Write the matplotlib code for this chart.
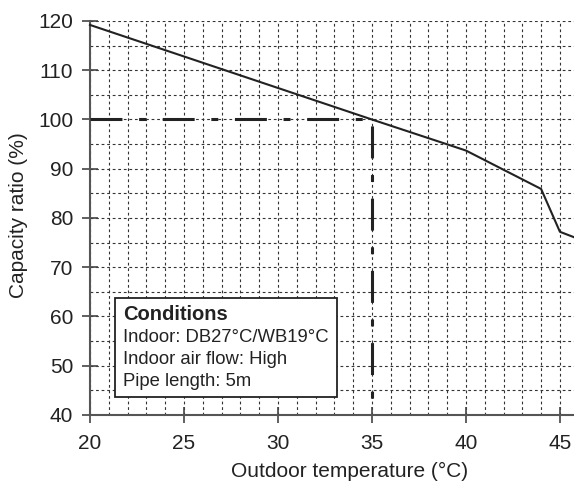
import matplotlib
matplotlib.use("Agg")
import matplotlib.pyplot as plt
from matplotlib.ticker import MultipleLocator

plt.rcParams['font.family'] = ['Liberation Sans', 'DejaVu Sans']
plt.rcParams['lines.scale_dashes'] = False

temps = [20, 35, 40, 44, 45, 45.75]
capacity = [119.2, 100, 93.7, 85.9, 77.2, 76.1]
ref_x = 35
ref_y = 100
x_ticks = [20, 25, 30, 35, 40, 45]
y_ticks = [40, 50, 60, 70, 80, 90, 100, 110, 120]
conditions_title = "Conditions"
conditions_lines = ["Indoor: DB27°C/WB19°C", "Indoor air flow: High", "Pipe length: 5m"]

fig = plt.figure(figsize=(5.74, 4.84), dpi=100)
ax = fig.add_axes([90/574, 69/484, 484/574, 394/484])
ax.set_xlim(20, 45.75)
ax.set_ylim(40, 120)

ax.xaxis.set_minor_locator(MultipleLocator(1))
ax.yaxis.set_minor_locator(MultipleLocator(5))
ax.set_xticks(x_ticks)
ax.set_yticks(y_ticks)
ax.grid(which='both', color='#333333', linestyle=(0, (2, 2)), linewidth=0.8)
ax.tick_params(which='major', direction='inout', length=11, width=1.2, color='#444444',
               labelsize=15, labelcolor='#222222')
ax.tick_params(axis='x', which='major', pad=8)
ax.tick_params(axis='y', which='major', pad=6.5)
ax.tick_params(which='minor', length=0)
for s in ['top', 'right']:
    ax.spines[s].set_visible(False)
for s in ['left', 'bottom']:
    ax.spines[s].set_color('#555555')
    ax.spines[s].set_linewidth(1.5)

ax.plot([20, ref_x], [ref_y, ref_y], color='#222222', linewidth=2.2,
        linestyle=(0, (23, 12, 5, 12)), zorder=3)
ax.plot([ref_x, ref_x], [ref_y, 40], color='#222222', linewidth=2.2,
        linestyle=(47, (23, 12, 5, 12)), zorder=3)
ax.plot(temps, capacity, color='#222222', linewidth=1.5, zorder=4, clip_on=False)

ax.set_xlabel("Outdoor temperature (°C)", fontsize=15, color='#222222')
ax.xaxis.label.set_va('baseline')
ax.xaxis.set_label_coords((350 - 90) / 484, (415 - 477) / 394)
ax.set_ylabel("Capacity ratio (%)", fontsize=15, color='#222222')
ax.yaxis.label.set_va('center')
ax.yaxis.set_label_coords((19 - 90) / 484, (415 - 215) / 394)

# Conditions box
rect = plt.Rectangle((115/574, 1 - 397/484), 222/574, 99/484, transform=fig.transFigure,
                     facecolor='white', edgecolor='#222222', linewidth=1.3, zorder=5)
fig.add_artist(rect)
fig.text(123/574, 1 - 320/484, conditions_title, fontsize=14.5, fontweight='bold', color='#222222',
         va='baseline', zorder=6)
for i, line in enumerate(conditions_lines):
    fig.text(123/574, 1 - (342.5 + i*22)/484, line, fontsize=13.3, color='#222222',
             va='baseline', zorder=6)

fig.savefig("out.png", dpi=100)
